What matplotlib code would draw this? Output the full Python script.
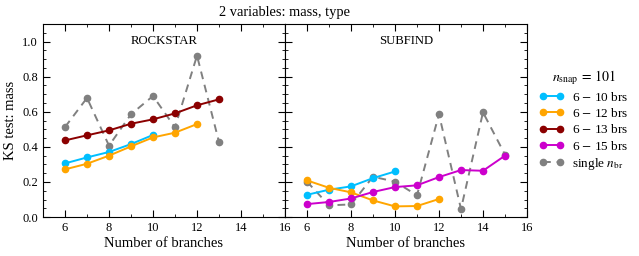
import numpy as np
import matplotlib
matplotlib.use("Agg")
import matplotlib.pyplot as plt
from matplotlib.ticker import MultipleLocator, FormatStrFormatter
from matplotlib.lines import Line2D

plt.rcParams['font.family'] = ['Liberation Serif', 'DejaVu Serif']
plt.rcParams['mathtext.fontset'] = 'stix'

# data
rock_x_10 = [6, 7, 8, 9, 10]
rock_10 = [0.306, 0.340, 0.371, 0.416, 0.468]
rock_x_12 = [6, 7, 8, 9, 10, 11, 12]
rock_12 = [0.272, 0.304, 0.350, 0.403, 0.454, 0.481, 0.530]
rock_x_13 = [6, 7, 8, 9, 10, 11, 12, 13]
rock_13 = [0.437, 0.466, 0.494, 0.532, 0.557, 0.591, 0.637, 0.671]
rock_x_single = [6, 7, 8, 9, 10, 11, 12, 13]
rock_single = [0.513, 0.679, 0.407, 0.586, 0.690, 0.511, 0.920, 0.428]

sub_x_10 = [6, 7, 8, 9, 10]
sub_10 = [0.127, 0.156, 0.175, 0.222, 0.260]
sub_x_12 = [6, 7, 8, 9, 10, 11, 12]
sub_12 = [0.209, 0.167, 0.141, 0.095, 0.061, 0.063, 0.103]
sub_x_15 = [6, 7, 8, 9, 10, 11, 12, 13, 14, 15]
sub_15 = [0.074, 0.086, 0.106, 0.143, 0.171, 0.181, 0.228, 0.268, 0.264, 0.350]
sub_x_single = [6, 7, 8, 9, 10, 11, 12, 13, 14, 15]
sub_single = [0.202, 0.067, 0.072, 0.230, 0.202, 0.124, 0.586, 0.046, 0.597, 0.356]

c10 = '#00BFFF'
c12 = '#FFA500'
c13 = '#8B0000'
c15 = '#CC00CC'
cs = 'grey'

fig = plt.figure(figsize=(6.39, 2.56), dpi=100)
ax1 = fig.add_axes([0.0673, 0.152, 0.3787, 0.754])
ax2 = fig.add_axes([0.446, 0.152, 0.3787, 0.754], sharey=ax1)

kw = dict(marker='o', ms=4.5, lw=1.4)

ax1.plot(rock_x_single, rock_single, color=cs, ls='--', dashes=(4, 3), zorder=1, **kw)
ax1.plot(rock_x_10, rock_10, color=c10, **kw)
ax1.plot(rock_x_12, rock_12, color=c12, **kw)
ax1.plot(rock_x_13, rock_13, color=c13, **kw)

ax2.plot(sub_x_single, sub_single, color=cs, ls='--', dashes=(4, 3), zorder=1, **kw)
ax2.plot(sub_x_10, sub_10, color=c10, **kw)
ax2.plot(sub_x_12, sub_12, color=c12, **kw)
ax2.plot(sub_x_15, sub_15, color=c15, **kw)

for ax, name in [(ax1, 'ROCKSTAR'), (ax2, 'SUBFIND')]:
    ax.set_xlim(5, 16)
    ax.set_ylim(0, 1.1)
    ax.xaxis.set_major_locator(MultipleLocator(2))
    ax.xaxis.set_minor_locator(MultipleLocator(1))
    ax.yaxis.set_major_locator(MultipleLocator(0.2))
    ax.yaxis.set_minor_locator(MultipleLocator(0.05))
    ax.tick_params(which='both', direction='in', top=True, right=True, labelsize=9)
    ax.tick_params(which='major', length=5)
    ax.tick_params(which='minor', length=2.5)
    ax.set_xlabel('Number of branches', fontsize=10.5, labelpad=2)
    ax.text(0.5, 0.91, name, transform=ax.transAxes, ha='center', va='center', fontsize=9.2)

ax1.set_ylabel('KS test: mass', fontsize=10.5)
ax1.yaxis.set_major_formatter(FormatStrFormatter('%.1f'))
ax2.tick_params(labelleft=False)

fig.text(0.446, 0.952, '2 variables: mass, type', ha='center', va='center', fontsize=10.4)

handles = [
    Line2D([], [], color=c10, **kw),
    Line2D([], [], color=c12, **kw),
    Line2D([], [], color=c13, **kw),
    Line2D([], [], color=c15, **kw),
    Line2D([], [], color=cs, ls='--', dashes=(4, 3), **kw),
]
labels = ['6 $-$ 10 brs', '6 $-$ 12 brs', '6 $-$ 13 brs', '6 $-$ 15 brs', r'single $n_{\rm br}$']
leg = fig.legend(handles, labels, loc='center left', bbox_to_anchor=(0.825, 0.53),
                 frameon=False, fontsize=9.5, title=r'$n_{\rm snap}\,=\,101$',
                 title_fontsize=10, handlelength=1.9, handletextpad=0.6,
                 labelspacing=0.25, numpoints=2)

fig.savefig('out.png', dpi=100)
